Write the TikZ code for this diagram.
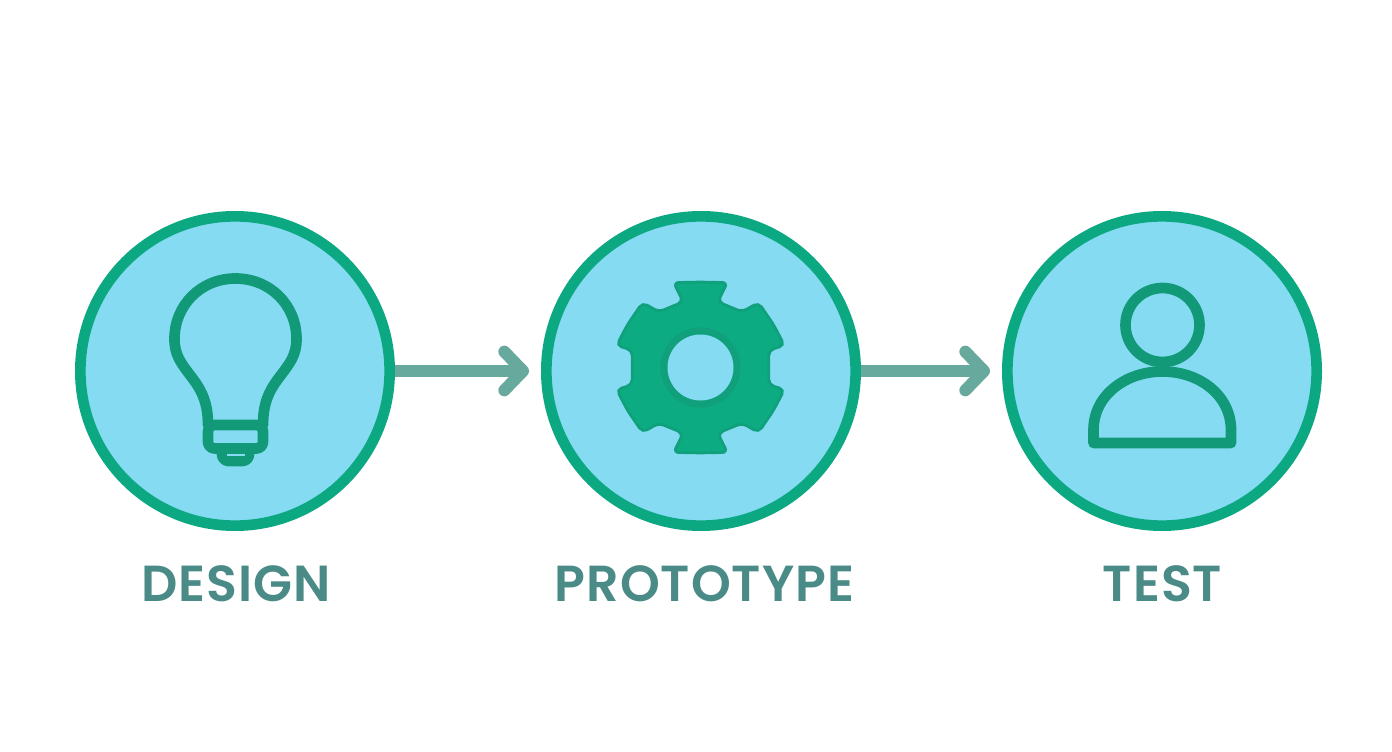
\documentclass[tikz,border=0pt]{standalone}
\usepackage{fontspec}
\newfontfamily\labelfont[LetterSpace=2]{Poppins SemiBold}
\usetikzlibrary{arrows.meta}
\definecolor{ringc}{HTML}{0BA882}
\definecolor{fillc}{HTML}{84DBF2}
\definecolor{iconc}{HTML}{129A78}
\definecolor{gearc}{HTML}{0CAB82}
\definecolor{gearb}{HTML}{10A07C}
\definecolor{arrowc}{HTML}{68A99D}
\definecolor{textc}{HTML}{4A8B87}
\tikzset{
  stage/.style={circle,draw=ringc,fill=fillc,line width=8pt,minimum size=232pt,inner sep=0pt},
  flow/.style={draw=arrowc,line width=9pt,shorten >=9pt,
     -{Straight Barb[length=14pt,width=29pt,round,color=arrowc]}},
  stagelabel/.style={text=textc,font=\labelfont\fontsize{38}{40}\selectfont,inner sep=0pt,anchor=center},
  iconline/.style={draw=iconc,line width=8pt,line join=round,line cap=round},
}
\begin{document}
\begin{tikzpicture}[x=0.75pt,y=-0.75pt]
\useasboundingbox[fill=white] (0,0) rectangle (1392,752);
\node[stage] (design) at (235,371) {};
\node[stage] (proto) at (701,371) {};
\node[stage] (test) at (1162,371) {};
\draw[flow] (design.east) -- (proto.west);
\draw[flow] (proto.east) -- (test.west);
\node[stagelabel] (l1) at (236,584) {DESIGN};
\node[stagelabel] (l2) at (704.5,584) {PROTOTYPE};
\node[stagelabel] (l3) at (1162.5,584) {TEST};
% bulb
\draw[iconline] (208,425) .. controls (208,400) and (200,388) .. (190,375)
  .. controls (181,363) and (174.5,355) .. (174.5,339)
  .. controls (174.5,305) and (201,278.5) .. (235.5,278.5)
  .. controls (270,278.5) and (296.5,305) .. (296.5,339)
  .. controls (296.5,355) and (290,363) .. (281,375)
  .. controls (271,388) and (263,400) .. (263,425);
\draw[iconline,rounded corners=5pt] (208,425) -- (263,425) -- (263,448.5) -- (208,448.5) -- cycle;
\draw[iconline,rounded corners=5pt] (222,452) -- (222,461) -- (249,461) -- (249,452);
\fill[iconc] (218,450) rectangle (253,460);
\draw[fillc,line width=0.9pt] (227,455) -- (245,455);
% gear
\begin{scope}[shift={(700.5,367.5)}]
\filldraw[draw=gearb,fill=gearc,line width=2pt,rounded corners=4pt]
  (-27,-85) -- (0,-85.5) -- (27,-85) -- (17.3,-65.7) -- (41.7,-55.7) -- (58,-65) -- (73,-43) -- (84,-22)
  -- (68.3,-17.3) -- (68.3,17.3) -- (84,22) -- (73,43) -- (58,65) -- (41.7,55.7) -- (17.3,65.7)
  -- (27,85) -- (0,85.5) -- (-27,85) -- (-17.3,65.7) -- (-41.7,55.7) -- (-58,65) -- (-73,43) -- (-84,22)
  -- (-68.3,17.3) -- (-68.3,-17.3) -- (-84,-22) -- (-73,-43) -- (-58,-65) -- (-41.7,-55.7) -- (-17.3,-65.7) -- cycle;
\fill[gearb] (0,0) circle (40);
\fill[fillc] (0,0) circle (33);
\end{scope}
% person
\draw[iconline] (1162.5,325) circle (37);
\draw[iconline] (1093.5,443) -- (1093.5,430)
  .. controls (1093.5,395) and (1126,371.5) .. (1162.5,371.5)
  .. controls (1199,371.5) and (1231,395) .. (1231,430) -- (1231,443) -- cycle;
\end{tikzpicture}
\end{document}
